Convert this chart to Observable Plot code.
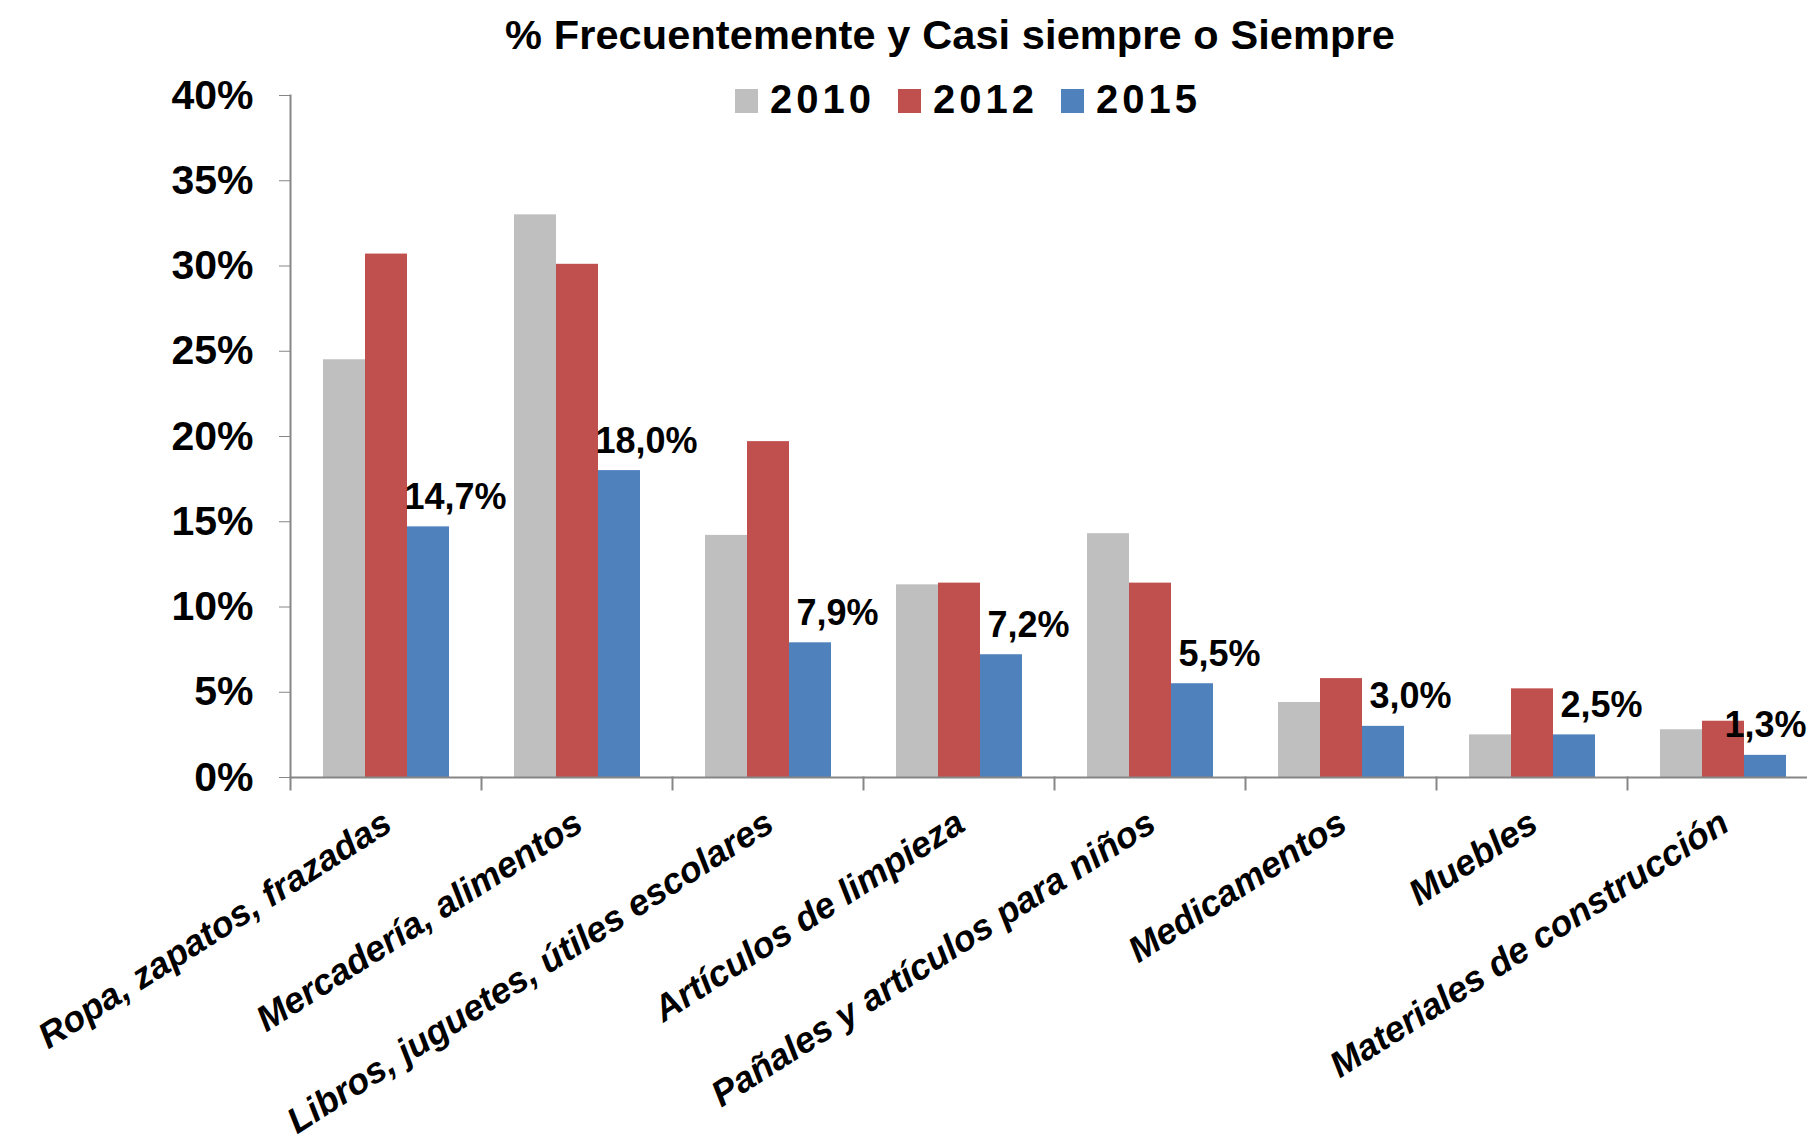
<!DOCTYPE html>
<html><head><meta charset="utf-8">
<script src="https://cdn.jsdelivr.net/npm/d3@7"></script>
<script src="https://cdn.jsdelivr.net/npm/@observablehq/plot@0.6"></script>
<style>
html,body{margin:0;padding:0;background:#fff;overflow:hidden;}
#wrap{position:relative;width:1807px;height:1142px;overflow:hidden;font-family:"Liberation Sans",Arial,sans-serif;color:#000;}
#chart{position:absolute;left:0;top:0;}
#title{position:absolute;left:0;top:14px;width:1900px;text-align:center;font-size:41.5px;font-weight:bold;line-height:41px;white-space:nowrap;letter-spacing:0.1px;}
#legend{position:absolute;left:735px;top:79px;font-size:40px;font-weight:bold;line-height:40px;white-space:nowrap;letter-spacing:4px;}
.sw{display:inline-block;width:23px;height:24px;margin-right:12px;}
.it{margin-right:23px;}
</style></head>
<body>
<div id="wrap"><div id="chart"></div><div id="title">% Frecuentemente y Casi siempre o Siempre</div><div id="legend"></div></div>
<script>
const categories = ["Ropa, zapatos, frazadas", "Mercadería, alimentos", "Libros, juguetes, útiles escolares", "Artículos de limpieza", "Pañales y artículos para niños", "Medicamentos", "Muebles", "Materiales de construcción"];
const years = ["2010", "2012", "2015"];
const values2010 = [24.5, 33.0, 14.2, 11.3, 14.3, 4.4, 2.5, 2.8];
const values2012 = [30.7, 30.1, 19.7, 11.4, 11.4, 5.8, 5.2, 3.3];
const values2015 = [14.7, 18.0, 7.9, 7.2, 5.5, 3.0, 2.5, 1.3];
const colors = ["#BFBFBF", "#C0504D", "#4F81BD"];
const yTicks = [0, 5, 10, 15, 20, 25, 30, 35, 40];

const series = [values2010, values2012, values2015];
const rows = categories.flatMap((c, i) => years.map((y, j) => ({category: c, year: y, value: series[j][i]})));
const labelRows = rows.filter(d => d.year === "2015");
const lastCat = categories[categories.length - 1];
const fmt = d => d.value.toFixed(1).replace(".", ",") + "%";

const W = 1819, H = 1142, mT = 95, mB = 365, mL = 289;
const FONT = '"Liberation Sans", Arial, sans-serif';

const chart = Plot.plot({
  width: W, height: H, marginTop: mT, marginBottom: mB, marginLeft: mL, marginRight: 0,
  style: {maxWidth: "none", fontFamily: FONT, background: "transparent", overflow: "visible", color: "#000"},
  fx: {domain: categories, padding: 0, label: null},
  x: {domain: years, paddingInner: 0, paddingOuter: 0.743, axis: null},
  y: {domain: [0, 40], label: null},
  color: {domain: years, range: colors},
  marks: [
    Plot.barY(rows, {fx: "category", x: "year", y: "value", fill: "year"}),
    Plot.ruleY([0], {stroke: "#868686", strokeWidth: 2}),
    Plot.frame({anchor: "left", facetAnchor: "left", stroke: "#868686", strokeWidth: 2}),
    Plot.frame({anchor: "left", stroke: "#868686", strokeWidth: 2, insetTop: H - mT - mB, insetBottom: -12}),
    Plot.axisY({ticks: yTicks, tickSize: 11, tickPadding: 26, tickFormat: d => d + "%", fontSize: 41, fontWeight: "bold", stroke: "#868686", fill: "#000", label: null}),
    Plot.axisFx({anchor: "bottom", tickSize: 0, tickPadding: 42, tickRotate: -32.5, dx: 2, fontSize: 36, fontWeight: "bold", fontStyle: "italic", fill: "#000", label: null}),
    Plot.text(labelRows.filter(d => d.category !== lastCat), {fx: "category", x: "year", y: "value", text: fmt, dx: 27, dy: -18, lineAnchor: "bottom", fontSize: 36, fontWeight: "bold", fill: "#000"}),
    Plot.text(labelRows.filter(d => d.category === lastCat), {fx: "category", x: "year", y: "value", text: fmt, dx: 0, dy: -18, lineAnchor: "bottom", fontSize: 36, fontWeight: "bold", fill: "#000"})
  ]
});
document.getElementById("chart").appendChild(chart);

const legend = document.getElementById("legend");
years.forEach((y, i) => {
  const it = document.createElement("span");
  it.className = "it";
  const sw = document.createElement("span");
  sw.className = "sw";
  sw.style.background = colors[i];
  it.appendChild(sw);
  it.appendChild(document.createTextNode(y));
  legend.appendChild(it);
});
</script>
</body></html>
